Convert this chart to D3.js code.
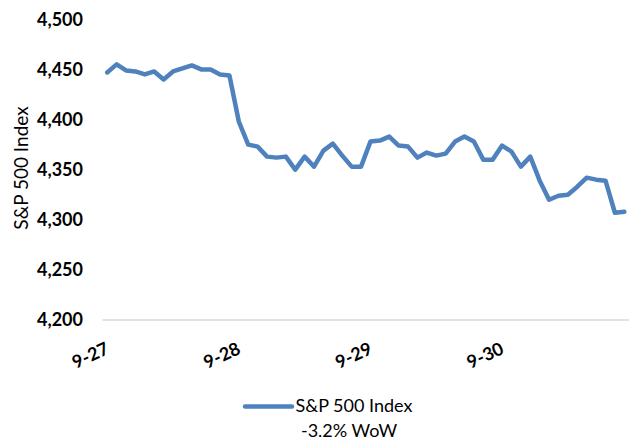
<!DOCTYPE html>
<html>
<head>
<meta charset="utf-8">
<script src="https://cdn.jsdelivr.net/npm/d3@7"></script>
<style>
  body { margin: 0; background: #fff; }
  svg { display: block; font-family: Lato, "Open Sans", sans-serif; }
</style>
</head>
<body>
<svg id="chart" width="629" height="442"></svg>
<script>
// half-hourly closes, 14 per day
var days = ["9-27", "9-28", "9-29", "9-30"]
var perDay = 14
var spx = [
  4447, 4455, 4449, 4448, 4445, 4448, 4440, 4448, 4451, 4454, 4450, 4450, 4445, 4444,
  4398, 4375, 4373, 4363, 4362, 4363, 4350, 4363, 4353, 4369, 4376, 4364, 4353, 4353,
  4378, 4379, 4383, 4374, 4373, 4362, 4367, 4364, 4366, 4378, 4383, 4378, 4360, 4360,
  4374, 4368, 4353, 4363, 4339, 4320, 4324, 4325, 4333, 4342, 4340, 4339, 4307, 4308
]
var yTicks = [4200, 4250, 4300, 4350, 4400, 4450, 4500]
var seriesName = "S&P 500 Index"
var seriesNote = "-3.2% WoW"

var svg = d3.select("#chart")
var color = "#4F81BD"

var x = d3.scalePoint()
  .domain(d3.range(spx.length))
  .range([102.5, 629])
  .padding(0.5)

var y = d3.scaleLinear()
  .domain([4200, 4500])
  .range([320, 19.3])

// baseline gridline at the axis minimum
svg.append("line")
  .attr("x1", 102.5).attr("x2", 629)
  .attr("y1", y(4200)).attr("y2", y(4200))
  .attr("stroke", "#D9D9D9")
  .attr("stroke-width", 1.5)

// y axis labels
var yAxis = d3.axisLeft(y).tickValues(yTicks).tickSize(0).tickPadding(0)
  .tickFormat(d3.format(","))
var gy = svg.append("g").attr("transform", "translate(83,0)").call(yAxis)
gy.select(".domain").remove()
gy.selectAll("text")
  .attr("font-family", "Lato, sans-serif")
  .attr("font-size", 18)
  .attr("font-weight", "bold")
  .attr("fill", "#000")

svg.append("text")
  .attr("transform", "translate(28,168) rotate(-90)")
  .attr("text-anchor", "middle")
  .attr("font-size", 19)
  .attr("fill", "#000")
  .text(seriesName)

// x labels, one per day
var xl = svg.append("g")
xl.selectAll("text")
  .data(days)
  .enter().append("text")
  .attr("transform", function(d, i) {
    return "translate(" + (x(i * perDay) + 3) + ",353) rotate(-25)"
  })
  .attr("text-anchor", "end")
  .attr("font-size", 18)
  .attr("font-weight", "bold")
  .attr("fill", "#000")
  .text(function(d) { return d })

// the line
var line = d3.line()
  .x(function(d, i) { return x(i) })
  .y(function(d) { return y(d) })

svg.append("path")
  .datum(spx)
  .attr("d", line)
  .attr("fill", "none")
  .attr("stroke", color)
  .attr("stroke-width", 4.5)
  .attr("stroke-linejoin", "round")
  .attr("stroke-linecap", "round")

// legend
svg.append("line")
  .attr("x1", 245).attr("x2", 292)
  .attr("y1", 406.5).attr("y2", 406.5)
  .attr("stroke", color)
  .attr("stroke-width", 4.5)
  .attr("stroke-linecap", "round")

var lt = svg.append("text")
  .attr("text-anchor", "middle")
  .attr("font-size", 18)
  .attr("fill", "#000")
lt.append("tspan").attr("x", 354).attr("y", 412).text(seriesName)
lt.append("tspan").attr("x", 349).attr("y", 437).text(seriesNote)
</script>
</body>
</html>
